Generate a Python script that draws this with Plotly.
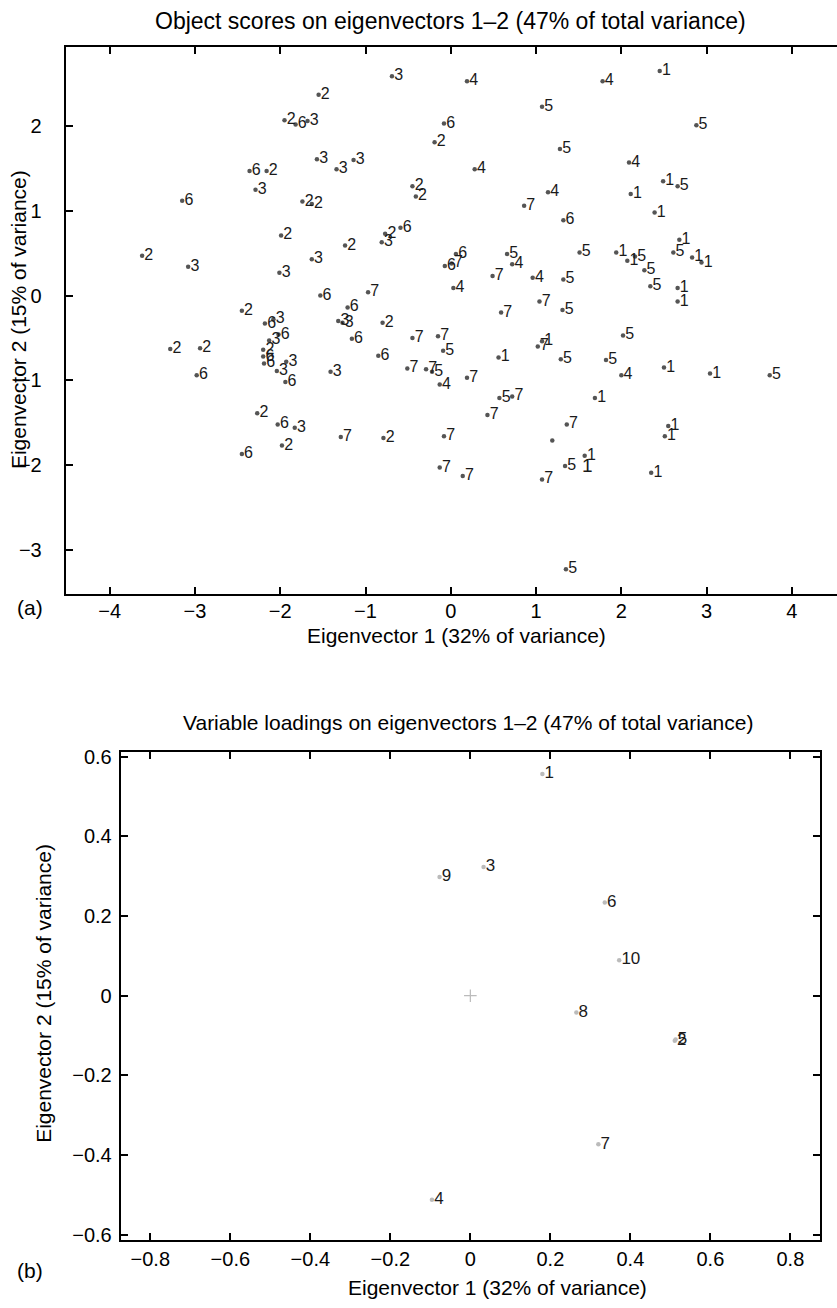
import plotly.graph_objects as go

# ---------------- data: panel (a) object scores ----------------
obj_x = [-0.69, -1.55, -1.95, -1.82, -1.68, -0.08, -0.19, -1.57, -1.34, -1.14,
         -2.36, -2.16, -2.29, -3.15, -1.74, -1.63, -0.45, -0.41, -1.99, -1.24,
         -0.77, -0.81, -0.59, -3.62, -3.08, -2.01, -1.63, 0.06, -0.07, 0.01,
         0.03, -1.53, -1.21, -0.97, -2.45, -2.18, -2.08, -1.32, -1.27, -0.80,
         -2.02, -2.13, -2.20, -2.20, -2.19, -1.93, -2.04, -1.94, -1.41, -3.29,
         -2.94, -2.98, -1.16, -0.85, -0.45, -0.15, -0.09, -0.51, -0.29, -0.22,
         -0.13, -2.27, -2.03, -1.83, -1.29, -0.79, -1.98, -2.45, -0.08, -0.13,
         0.19, 1.78, 2.45, 1.07, 2.88, 1.28, 2.09, 0.28, 2.49, 2.66,
         2.11, 1.14, 0.86, 2.39, 1.32, 2.68, 0.66, 1.51, 1.94, 2.07,
         2.16, 2.61, 2.83, 2.94, 0.72, 2.27, 0.49, 0.96, 1.32, 2.34,
         2.66, 2.66, 1.04, 1.31, 0.59, 1.07, 1.02, 2.02, 0.56, 1.29,
         1.82, 2.50, 2.00, 3.04, 3.74, 0.19, 0.57, 0.72, 1.69, 0.43,
         1.36, 2.55, 2.51, 1.19, 1.57, 1.34, 2.35, 0.14, 1.07, 1.35]
obj_y = [2.59, 2.37, 2.07, 2.02, 2.06, 2.03, 1.81, 1.61, 1.49, 1.60,
         1.47, 1.47, 1.25, 1.12, 1.11, 1.08, 1.29, 1.17, 0.71, 0.59,
         0.73, 0.63, 0.80, 0.47, 0.34, 0.27, 0.43, 0.49, 0.35, 0.38,
         0.09, 0.00, -0.14, 0.04, -0.18, -0.33, -0.28, -0.30, -0.32, -0.32,
         -0.46, -0.53, -0.64, -0.72, -0.80, -0.78, -0.89, -1.02, -0.90, -0.63,
         -0.62, -0.94, -0.51, -0.71, -0.50, -0.48, -0.65, -0.86, -0.87, -0.90,
         -1.05, -1.39, -1.52, -1.56, -1.67, -1.68, -1.77, -1.87, -1.66, -2.03,
         2.53, 2.53, 2.65, 2.23, 2.01, 1.73, 1.57, 1.49, 1.35, 1.29,
         1.20, 1.22, 1.06, 0.98, 0.89, 0.66, 0.49, 0.51, 0.51, 0.41,
         0.46, 0.51, 0.45, 0.39, 0.37, 0.30, 0.23, 0.21, 0.19, 0.11,
         0.09, -0.07, -0.07, -0.17, -0.20, -0.54, -0.60, -0.47, -0.73, -0.75,
         -0.76, -0.85, -0.94, -0.92, -0.94, -0.97, -1.21, -1.19, -1.21, -1.41,
         -1.52, -1.54, -1.66, -1.71, -1.89, -2.01, -2.09, -2.13, -2.17, -3.23]
obj_label = ["3", "2", "2", "6", "3", "6", "2", "3", "3", "3",
             "6", "2", "3", "6", "2", "2", "2", "2", "2", "2",
             "2", "3", "6", "2", "3", "3", "3", "6", "6", "7",
             "4", "6", "6", "7", "2", "6", "3", "3", "3", "2",
             "6", "3", "2", "6", "6", "3", "3", "6", "3", "2",
             "2", "6", "6", "6", "7", "7", "5", "7", "7", "5",
             "4", "2", "6", "3", "7", "2", "2", "6", "7", "7",
             "4", "4", "1", "5", "5", "5", "4", "4", "1", "5",
             "1", "4", "7", "1", "6", "1", "5", "5", "1", "1",
             "5", "5", "1", "1", "4", "5", "7", "4", "5", "5",
             "1", "1", "7", "5", "7", "1", "7", "5", "1", "5",
             "5", "1", "4", "1", "5", "7", "5", "7", "1", "7",
             "7", "1", "1", "", "1", "5", "1", "7", "7", "5"]
# stray label without a point marker
stray_x = [1.60]
stray_y = [-2.02]
stray_label = ["1"]

# ---------------- data: panel (b) variable loadings ----------------
var_x = [0.180, 0.511, 0.033, -0.096, 0.513, 0.336, 0.320, 0.265, -0.077, 0.372]
var_y = [0.556, -0.113, 0.323, -0.512, -0.110, 0.234, -0.373, -0.042, 0.298, 0.089]
var_label = ["1", "2", "3", "4", "5", "6", "7", "8", "9", "10"]
origin_x = [0]
origin_y = [0]

# ---------------- ticks ----------------
a_xticks = [-4, -3, -2, -1, 0, 1, 2, 3, 4]
a_yticks = [-3, -2, -1, 0, 1, 2]
b_xticks = [-0.8, -0.6, -0.4, -0.2, 0, 0.2, 0.4, 0.6, 0.8]
b_yticks = [-0.6, -0.4, -0.2, 0, 0.2, 0.4, 0.6]


def fmt(v):
    s = ("%g" % abs(v))
    return ("\u2212" + s) if v < 0 else s


W, H = 837, 1308
FONT = "Liberation Sans, Arial, Helvetica, sans-serif"
CLEAR = "rgba(0,0,0,0)"


def px(x):
    return x / W


def py(y):
    return 1 - y / H


fig = go.Figure()

# panel (a): dots, then labels drawn just to their right
fig.add_trace(go.Scatter(
    x=obj_x, y=obj_y, mode="markers",
    marker=dict(size=4.5, color="#555555"),
    xaxis="x", yaxis="y", showlegend=False, hoverinfo="skip"))
fig.add_trace(go.Scatter(
    x=obj_x, y=obj_y, text=obj_label, mode="markers+text",
    textposition="middle right",
    marker=dict(size=2, color=CLEAR),
    textfont=dict(size=16, color="#1a1a1a", family=FONT),
    xaxis="x", yaxis="y", showlegend=False, hoverinfo="skip"))
fig.add_trace(go.Scatter(
    x=stray_x, y=stray_y, text=stray_label, mode="text",
    textposition="middle center",
    textfont=dict(size=19, color="#1a1a1a", family=FONT),
    xaxis="x", yaxis="y", showlegend=False, hoverinfo="skip"))

# panel (b)
fig.add_trace(go.Scatter(
    x=var_x, y=var_y, mode="markers",
    marker=dict(size=4.5, color="#bbbbbb"),
    xaxis="x2", yaxis="y2", showlegend=False, hoverinfo="skip"))
fig.add_trace(go.Scatter(
    x=var_x, y=var_y, text=var_label, mode="markers+text",
    textposition="middle right",
    marker=dict(size=2, color=CLEAR),
    textfont=dict(size=17, color="#1a1a1a", family=FONT),
    xaxis="x2", yaxis="y2", showlegend=False, hoverinfo="skip"))
fig.add_trace(go.Scatter(
    x=origin_x, y=origin_y, mode="markers",
    marker=dict(symbol="cross-thin", size=9, line=dict(color="#bbbbbb", width=1.2)),
    xaxis="x2", yaxis="y2", showlegend=False, hoverinfo="skip"))

axis_common = dict(showgrid=False, zeroline=False, showline=True, linecolor="black",
                   linewidth=2, ticks="inside", ticklen=7, tickwidth=1.5, tickcolor="black",
                   tickfont=dict(size=20, color="black", family=FONT))

fig.update_layout(
    xaxis=dict(domain=[px(65.7), 1.0], range=[-4.516, 4.529], anchor="y",
               tickvals=a_xticks, ticktext=[fmt(v) for v in a_xticks],
               mirror="ticks", ticklabelstandoff=-2, **axis_common),
    yaxis=dict(domain=[py(593.3), py(41.7)], range=[-3.52, 2.93], anchor="x",
               tickvals=a_yticks, ticktext=[fmt(v) for v in a_yticks],
               mirror=False, ticklabelstandoff=18, **axis_common),
    xaxis2=dict(domain=[px(120.7), px(820)], range=[-0.874, 0.874], anchor="y2",
                tickvals=b_xticks, ticktext=[fmt(v) for v in b_xticks],
                mirror="ticks", ticklabelstandoff=0, **axis_common),
    yaxis2=dict(domain=[py(1245), py(752.7)], range=[-0.612, 0.612], anchor="x2",
                tickvals=b_yticks, ticktext=[fmt(v) for v in b_yticks],
                mirror="ticks", ticklabelstandoff=3, **axis_common),
)

ann = []


def add_text(text, x, y, size, angle=0):
    ann.append(dict(text=text, x=px(x), y=py(y), xref="paper", yref="paper",
                    xanchor="center", yanchor="middle", showarrow=False, textangle=angle,
                    font=dict(size=size, color="black", family=FONT)))


add_text("Object scores on eigenvectors 1\u20132 (47% of total variance)", 450, 15, 23)
add_text("Eigenvector 1 (32% of variance)", 456, 635, 21)
add_text("Eigenvector 2 (15% of variance)", 18, 317, 21, -90)
add_text("(a)", 30, 607, 21)
add_text("Variable loadings on eigenvectors 1\u20132 (47% of total variance)", 468, 723, 21)
add_text("Eigenvector 1 (32% of variance)", 497, 1293, 21)
add_text("Eigenvector 2 (15% of variance)", 44, 997, 21, -90)
add_text("(b)", 30, 1276, 21)

fig.update_layout(
    annotations=ann,
    width=W, height=H,
    margin=dict(l=0, r=0, t=0, b=0),
    paper_bgcolor="white", plot_bgcolor="white",
    font=dict(family=FONT, color="black"),
)

fig.write_html("out.html")
